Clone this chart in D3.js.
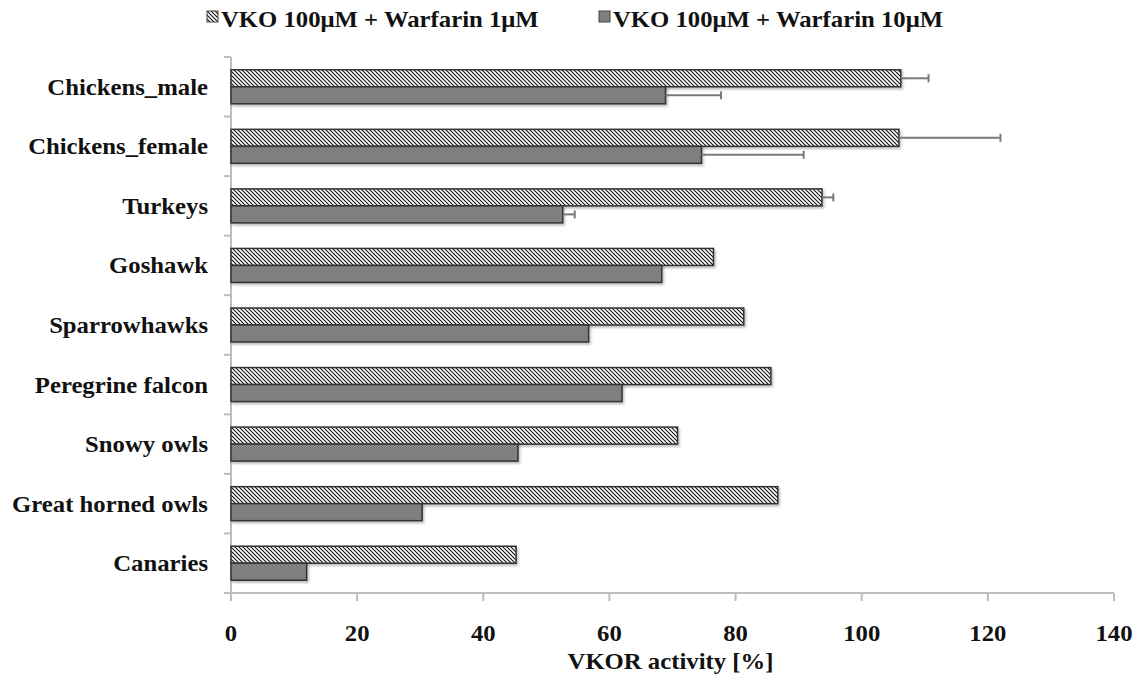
<!DOCTYPE html>
<html><head><meta charset="utf-8">
<script src="https://cdn.jsdelivr.net/npm/d3@7"></script>
<style>
html,body{margin:0;padding:0;background:#fff;}
text{font-family:"Liberation Serif","Times New Roman",serif;font-weight:bold;fill:#111;}
</style></head>
<body><svg id="c" width="1144" height="674"></svg>
<script>
const categories = ["Chickens_male","Chickens_female","Turkeys","Goshawk","Sparrowhawks","Peregrine falcon","Snowy owls","Great horned owls","Canaries"];
const seriesNames = ["VKO 100μM + Warfarin 1μM","VKO 100μM + Warfarin 10μM"];
const warf1 = [106.2,105.9,93.7,76.5,81.3,85.6,70.8,86.7,45.2];
const warf1Err = [4.4,16.1,1.8,null,null,null,null,null,null];
const warf10 = [68.9,74.6,52.6,68.3,56.7,62.0,45.5,30.3,12.0];
const warf10Err = [8.8,16.2,1.9,null,null,null,null,null,null];
const xTicks = [0,20,40,60,80,100,120,140];
const xTitle = "VKOR activity [%]";

(function(){
const svg = d3.select("#c");
const mLeft=231, mRight=1114, mTop=57, mBottom=593;
const x = d3.scaleLinear().domain([0,140]).range([mLeft,mRight]);
const y = d3.scaleBand().domain(categories).range([mTop,mBottom]);
const barH = 17;
const fs = 24, sx = 1.03;

const defs = svg.append("defs");
const pat = defs.append("pattern").attr("id","hatch").attr("patternUnits","userSpaceOnUse")
  .attr("width",4).attr("height",4);
pat.append("rect").attr("width",4).attr("height",4).attr("fill","#fff");
pat.append("path").attr("d","M-1,-1 L5,5 M3,-1 L5,1 M-1,3 L1,5").attr("stroke","#111").attr("stroke-width",1.1);
const f = defs.append("filter").attr("id","sh").attr("x","-5%").attr("y","-20%").attr("width","110%").attr("height","160%");
f.append("feDropShadow").attr("dx",1.5).attr("dy",2).attr("stdDeviation",1.2).attr("flood-color","#000").attr("flood-opacity",0.25);

const axisCol = "#bdbdbd";
svg.append("line").attr("x1",mLeft).attr("x2",mLeft).attr("y1",mTop).attr("y2",mBottom).attr("stroke",axisCol).attr("stroke-width",2);
svg.append("line").attr("x1",mLeft-7).attr("x2",mRight).attr("y1",mBottom).attr("y2",mBottom).attr("stroke",axisCol).attr("stroke-width",2);
categories.forEach(c=>{
  svg.append("line").attr("x1",mLeft-7).attr("x2",mLeft).attr("y1",y(c)).attr("y2",y(c)).attr("stroke",axisCol).attr("stroke-width",2);
});
xTicks.forEach(t=>{
  svg.append("line").attr("x1",x(t)).attr("x2",x(t)).attr("y1",mBottom).attr("y2",mBottom+8).attr("stroke",axisCol).attr("stroke-width",2);
  svg.append("text").attr("text-anchor","middle").attr("font-size",fs)
    .attr("transform",`translate(${x(t)},${mBottom+48}) scale(${sx},1)`).text(t);
});
svg.append("text").attr("text-anchor","middle").attr("font-size",fs)
  .attr("transform",`translate(${x(70)-2},${mBottom+76}) scale(${sx},1)`).text(xTitle);

categories.forEach(c=>{
  svg.append("text").attr("text-anchor","end").attr("font-size",fs)
    .attr("transform",`translate(208,${y(c)+y.bandwidth()/2+8}) scale(${sx},1)`).text(c);
});

const g = svg.append("g");
categories.forEach((c,i)=>{
  const yc = y(c)+y.bandwidth()/2;
  g.append("rect").attr("x",x(0)).attr("y",yc-barH).attr("width",x(warf1[i])-x(0)).attr("height",barH)
    .attr("fill","url(#hatch)").attr("stroke","#333").attr("stroke-width",1.5).attr("filter","url(#sh)");
  g.append("rect").attr("x",x(0)).attr("y",yc).attr("width",x(warf10[i])-x(0)).attr("height",barH)
    .attr("fill","#7f7f7f").attr("stroke","#333").attr("stroke-width",1.5).attr("filter","url(#sh)");
});
const errCol="#7a7a7a";
function err(v,e,yc){
  if(e==null) return;
  g.append("line").attr("x1",x(v)).attr("x2",x(v+e)).attr("y1",yc).attr("y2",yc).attr("stroke",errCol).attr("stroke-width",2);
  g.append("line").attr("x1",x(v+e)).attr("x2",x(v+e)).attr("y1",yc-4).attr("y2",yc+4).attr("stroke",errCol).attr("stroke-width",2);
}
categories.forEach((c,i)=>{
  const yc = y(c)+y.bandwidth()/2;
  err(warf1[i],warf1Err[i],yc-barH/2);
  err(warf10[i],warf10Err[i],yc+barH/2);
});

const lg = svg.append("g");
const legX=[207,599];
seriesNames.forEach((s,i)=>{
  lg.append("rect").attr("x",legX[i]).attr("y",11).attr("width",11).attr("height",11)
    .attr("fill", i===0?"url(#hatch)":"#7f7f7f").attr("stroke","#444").attr("stroke-width",1);
  lg.append("text").attr("font-size",fs)
    .attr("transform",`translate(${legX[i]+14},27) scale(${sx},1)`).text(s);
});
})();
</script></body></html>
